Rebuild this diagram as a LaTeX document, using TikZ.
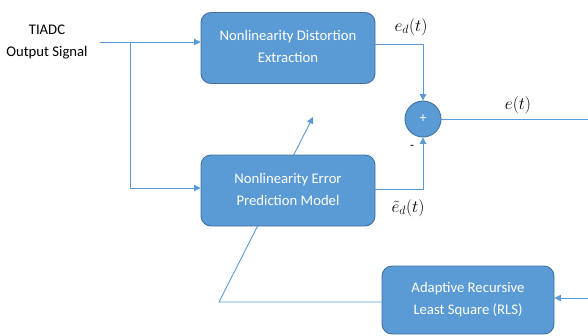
\documentclass[tikz,border=0pt]{standalone}
\usepackage{fontspec}
\setmainfont{Carlito}
\usetikzlibrary{arrows.meta,backgrounds}

\definecolor{boxfill}{HTML}{5B9BD5}
\definecolor{boxline}{HTML}{41719C}

\begin{document}
\begin{tikzpicture}[x=1pt,y=-1pt,
	block/.style={draw=boxline, fill=boxfill, line width=0.9pt, rounded corners=10pt,
		text=white, align=center, font=\fontsize{14.7}{22}\selectfont,
		minimum width=174pt, minimum height=71pt, inner sep=0pt},
	sumnode/.style={circle, draw=boxline, fill=boxfill, line width=0.9pt, minimum size=36pt,
		text=white, font=\fontsize{14}{14}\selectfont, inner sep=0pt},
	wire/.style={draw=boxfill, line width=0.9pt},
	arr/.style={wire, -{Triangle[width=6.5pt,length=6.5pt]}},
	lbl/.style={font=\fontsize{16.5}{16.5}\selectfont, inner sep=0pt}]
	\useasboundingbox (0,0) rectangle (588,335);

	% blocks
	\node[block] (extract) at (288,48) {Nonlinearity Distortion\\Extraction\\[-19pt]\mbox{}};
	\node[block] (predict) at (288,190.5) {Nonlinearity Error\\Prediction Model\\[-19pt]\mbox{}};
	\node[block, minimum width=172pt, minimum height=68pt] (rls) at (468,300) {Adaptive Recursive\\Least Square (RLS)\\[-19pt]\mbox{}};
	\node[sumnode] (sum) at (423,119) {+};

	\node[align=center, font=\fontsize{14.7}{22}\selectfont, inner sep=0pt] (input) at (47,42) {TIADC\\Output Signal};

	% input and branch
	\coordinate (in) at (100,42);
	\coordinate (split) at (130,42);
	\draw[arr] (in) -- (in -| extract.west);
	\draw[arr] (split) |- (predict.west |- 0,188);

	% into the adder
	\draw[arr] (extract.east |- 0,44) -| (sum.north);
	\draw[arr] (predict.east |- 0,189) -| (sum.south);
	\node[lbl] (ed) at (411,27) {$e_d(t)$};
	\node[lbl] (edhat) at (408,208) {$\tilde{e}_d(t)$};
	\node[font=\fontsize{13}{13}\selectfont, inner sep=0pt] (minus) at (412,147) {-};

	% error feedback to RLS
	\coordinate (right) at (592,119);
	\draw[wire] (sum.east) -- (right);
	\draw[arr] (right) |- (rls.east |- 0,298);
	\node[lbl] (e) at (518,105) {$e(t)$};

	% weight update runs under the prediction block
	\coordinate (fb) at (219,302);
	\coordinate (upd) at (313,117);
	\begin{scope}[on background layer]
		\draw[arr] (rls.west |- fb) -- (fb) -- (upd);
	\end{scope}
\end{tikzpicture}
\end{document}
